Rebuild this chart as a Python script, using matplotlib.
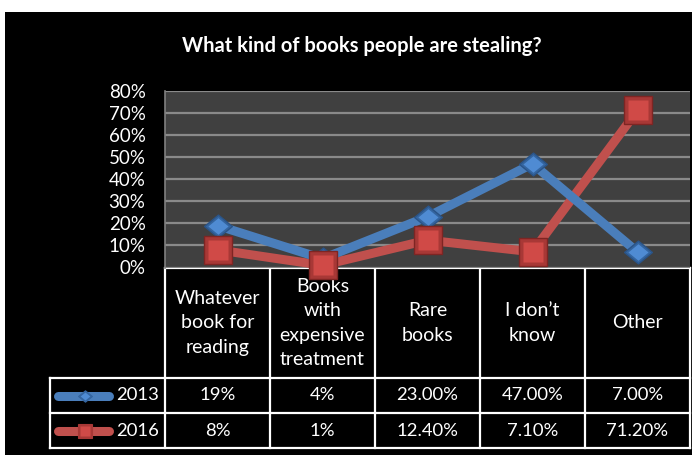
import matplotlib
matplotlib.use("Agg")
import matplotlib.pyplot as plt
from matplotlib.path import Path
from matplotlib.patches import Rectangle

# ---------------- data ----------------
categories = ["Whatever\nbook for\nreading",
              "Books\nwith\nexpensive\ntreatment",
              "Rare\nbooks",
              "I don\u2019t\nknow",
              "Other"]
series_names = ["2013", "2016"]
values_2013 = [0.19, 0.04, 0.23, 0.47, 0.07]
values_2016 = [0.08, 0.01, 0.124, 0.071, 0.712]
labels_2013 = ["19%", "4%", "23.00%", "47.00%", "7.00%"]
labels_2016 = ["8%", "1%", "12.40%", "7.10%", "71.20%"]
yticks = [0.0, 0.1, 0.2, 0.3, 0.4, 0.5, 0.6, 0.7, 0.8]
ytick_labels = ["0%", "10%", "20%", "30%", "40%", "50%", "60%", "70%", "80%"]
title = "What kind of books people are stealing?"

plt.rcParams["font.family"] = ["Lato", "DejaVu Sans"]

W, H = 692, 455
fig = plt.figure(figsize=(W / 100, H / 100), dpi=100, facecolor="white")

# background / table axes in pixel coordinates
bg = fig.add_axes([0, 0, 1, 1], zorder=0)
bg.set_xlim(0, W)
bg.set_ylim(H, 0)
bg.axis("off")
bg.add_patch(Rectangle((5, 12), W - 5, H - 12, facecolor="black", edgecolor="none"))

# plot area
L, R, T, B = 165, 690, 91, 267.5
ax = fig.add_axes([L / W, 1 - B / H, (R - L) / W, (B - T) / H], zorder=2)
ax.set_facecolor("#404040")
n = len(categories)
x = list(range(n))
ax.set_xlim(-0.5, n - 0.5)
ax.set_ylim(0, 0.8)
ax.set_yticks(yticks)
ax.set_yticklabels(ytick_labels)
ax.set_xticks([])
ax.yaxis.grid(True, color="#8a8a8a", lw=1.6)
ax.set_axisbelow(True)
ax.tick_params(axis="y", length=0, pad=14, labelcolor="white", labelsize=13.5)
for s in ["top", "right", "bottom"]:
    ax.spines[s].set_visible(False)
ax.spines["left"].set_color("#808080")
ax.spines["left"].set_linewidth(1.2)

# diamond marker (wider than tall)
diamond = Path([(-1, 0), (0, 0.82), (1, 0), (0, -0.82), (-1, 0)],
               [Path.MOVETO, Path.LINETO, Path.LINETO, Path.LINETO, Path.CLOSEPOLY])

blue_line = "#4A7EBB"
red_line = "#C0504D"

ax.plot(x, values_2016, color=red_line, lw=6.5, solid_joinstyle="round",
        solid_capstyle="round", zorder=3, clip_on=False)
ax.plot(x, values_2013, color=blue_line, lw=6.5, solid_joinstyle="round",
        solid_capstyle="round", zorder=4, clip_on=False)
# blue diamonds (bevel imitation)
ax.plot(x, values_2013, ls="none", marker=diamond, ms=20, mfc="#3465A0",
        mec="#2A5488", mew=1, zorder=5, clip_on=False)
ax.plot(x, values_2013, ls="none", marker=diamond, ms=14.5, mfc="#4F8BD3",
        mec="none", zorder=5.1, clip_on=False)
# red squares (bevel imitation)
ax.plot(x, values_2016, ls="none", marker="s", ms=19.5, mfc="#A83836",
        mec="#7E2523", mew=1, zorder=6, clip_on=False)
ax.plot(x, values_2016, ls="none", marker="s", ms=14.5, mfc="#D04A47",
        mec="none", zorder=6.1, clip_on=False)

# title
fig.text(362 / W, 1 - 46 / H, title, color="white", fontsize=14.5,
         fontweight="bold", ha="center", va="center")

# ---------------- data table ----------------
col_w = (R - L) / n
y_head_top, y_head_bot, y_mid, y_bot = 268, 378, 413, 448
leg_left = 50
lc = "white"
lw_t = 1.6
bg.plot([L, R], [y_head_top, y_head_top], color=lc, lw=lw_t)
for yy in (y_head_bot, y_mid, y_bot):
    bg.plot([leg_left, R], [yy, yy], color=lc, lw=lw_t)
bg.plot([leg_left, leg_left], [y_head_bot, y_bot], color=lc, lw=lw_t)
for i in range(n + 1):
    xx = L + i * col_w
    bg.plot([xx, xx], [y_head_top, y_bot], color=lc, lw=lw_t)

for i, cat in enumerate(categories):
    cx = L + (i + 0.5) * col_w
    bg.text(cx, (y_head_top + y_head_bot) / 2, cat, color="white",
            fontsize=14, ha="center", va="center", linespacing=1.53,
            multialignment="center")
    bg.text(cx, (y_head_bot + y_mid) / 2, labels_2013[i], color="white",
            fontsize=13.3, ha="center", va="center")
    bg.text(cx, (y_mid + y_bot) / 2, labels_2016[i], color="white",
            fontsize=13.3, ha="center", va="center")

# legend keys inside the table
rows = [((y_head_bot + y_mid) / 2, series_names[0], blue_line, diamond, "#3465A0", "#4F8BD3", 10),
        ((y_mid + y_bot) / 2, series_names[1], red_line, "s", "#A83836", "#D04A47", 10.5)]
for yy, name, col, mk, mfc, mfc2, ms in rows:
    bg.plot([58, 109], [yy, yy], color=col, lw=6.5, solid_capstyle="round")
    bg.plot([85], [yy], ls="none", marker=mk, ms=ms, mfc=mfc, mec=mfc, mew=0.8)
    bg.plot([85], [yy], ls="none", marker=mk, ms=ms * 0.7, mfc=mfc2, mec="none")
    bg.text(116, yy, name, color="white", fontsize=13.3, ha="left", va="center")

fig.savefig("out.png", dpi=100, facecolor=fig.get_facecolor())
